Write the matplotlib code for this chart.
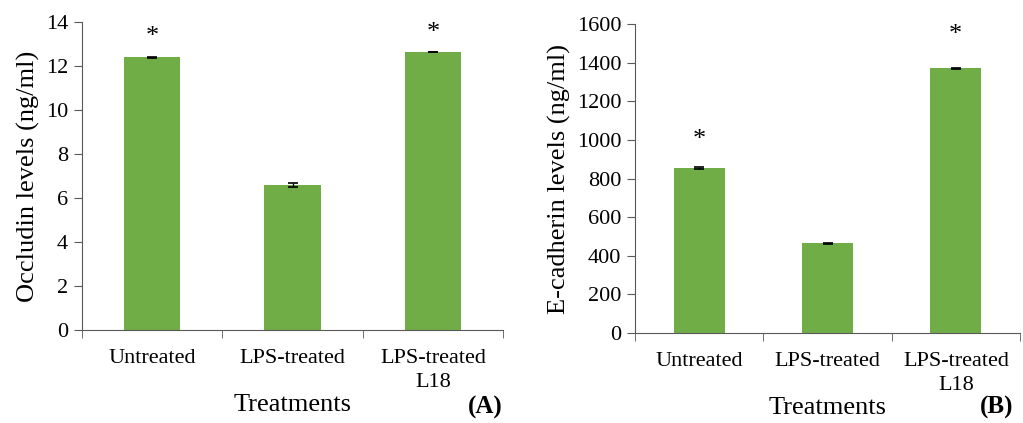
import matplotlib.pyplot as plt
from matplotlib.ticker import FixedLocator, NullFormatter

plt.rcParams['font.family'] = ['Liberation Serif', 'DejaVu Serif']

categories = ['Untreated', 'LPS-treated', 'LPS-treated\nL18']
occludin = [12.4, 6.6, 12.65]
occludin_err = [0.03, 0.08, 0.0]
occludin_star = [13.3, None, 13.5]
ecad = [855, 465, 1370]
ecad_err = [4, 3, 3]
ecad_star = [1000, None, 1545]

green = '#70ad47'
spine_col = '#595959'

fig = plt.figure(figsize=(10.23, 4.23), dpi=100)
axA = fig.add_axes([0.080, 0.220, 0.412, 0.728])
axB = fig.add_axes([0.621, 0.213, 0.376, 0.730])


def panel(ax, vals, errs, stars, ymax, step, ylabel, letter, letter_x):
    x = range(len(vals))
    ax.bar(x, vals, width=0.4, color=green, zorder=2)
    ax.errorbar(x, vals, yerr=errs, fmt='none', ecolor='black',
                elinewidth=1, capsize=3.6, capthick=1.2, zorder=3)
    for i, s in enumerate(stars):
        if s is not None:
            ax.text(i, s, '*', ha='center', va='center', fontsize=19)
    ax.set_xlim(-0.5, len(vals) - 0.5)
    ax.set_ylim(0, ymax)
    ax.set_yticks(range(0, ymax + 1, step))
    ax.set_xticks(list(x))
    ax.set_xticklabels(categories, fontsize=16, linespacing=1.3)
    ax.xaxis.set_minor_locator(FixedLocator([-0.5, 0.5, 1.5, 2.5]))
    ax.xaxis.set_minor_formatter(NullFormatter())
    ax.tick_params(axis='x', which='major', length=0, pad=14)
    ax.tick_params(axis='x', which='minor', length=6, color=spine_col, direction='out')
    ax.tick_params(axis='y', length=6, color=spine_col, labelsize=16, pad=4)
    for sp in ['top', 'right']:
        ax.spines[sp].set_visible(False)
    for sp in ['left', 'bottom']:
        ax.spines[sp].set_color(spine_col)
    ax.set_ylabel(ylabel, fontsize=19, labelpad=4)
    ax.set_xlabel('Treatments', fontsize=19, labelpad=2)
    fig.text(letter_x, 0.010, letter, fontsize=18, fontweight='bold', ha='center', va='bottom')


panel(axA, occludin, occludin_err, occludin_star, 14, 2,
      'Occludin levels (ng/ml)', '(A)', 0.474)
panel(axB, ecad, ecad_err, ecad_star, 1600, 200,
      'E-cadherin levels (ng/ml)', '(B)', 0.974)

fig.savefig('out.png', dpi=100)
